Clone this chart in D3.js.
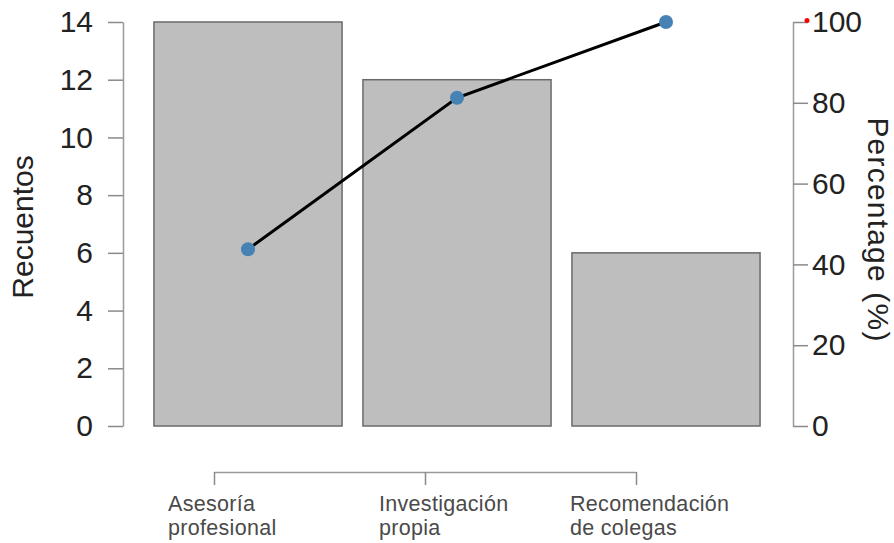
<!DOCTYPE html>
<html>
<head>
<meta charset="utf-8">
<script src="https://cdn.jsdelivr.net/npm/d3@7"></script>
<style>
  body { margin: 0; background: #fff; }
  text { font-family: "Liberation Sans", Arial, sans-serif; }
</style>
</head>
<body>
<svg id="chart" width="894" height="543"></svg>
<script>
// data
const categories = ["Asesoría profesional", "Investigación propia", "Recomendación de colegas"]
const counts = [14, 12, 6]
const cumulativePct = [43.75, 81.25, 100]
const countTicks = [0, 2, 4, 6, 8, 10, 12, 14]
const pctTicks = [0, 20, 40, 60, 80, 100]

const svg = d3.select("#chart")

const yTop = 22, yBottom = 426
const y = d3.scaleLinear().domain([0, 14]).range([yBottom, yTop])
const yp = d3.scaleLinear().domain([0, 100]).range([yBottom, yTop])
const x = d3.scaleBand().domain(categories).range([143.5, 770.5])
  .paddingInner(0.1).paddingOuter(0.05)
const xl = d3.scalePoint().domain(categories).range([214, 636])

// bars
svg.append("g").selectAll("rect")
  .data(categories)
  .join("rect")
  .attr("x", d => x(d))
  .attr("y", (d, i) => y(counts[i]))
  .attr("width", x.bandwidth())
  .attr("height", (d, i) => y(0) - y(counts[i]))
  .attr("fill", "#bebebe")
  .attr("stroke", "#6a6a6a")
  .attr("stroke-width", 1.5)

// left axis
const gl = svg.append("g").attr("transform", "translate(123,0)")
gl.call(d3.axisLeft(y).tickValues(countTicks).tickSize(15).tickSizeOuter(0).tickPadding(15))
gl.select(".domain").attr("stroke", "#9a9a9a").attr("stroke-width", 1.5)
gl.selectAll(".tick line").attr("stroke", "#8a8a8a").attr("stroke-width", 1.5)
gl.selectAll(".tick text").attr("font-size", 30).attr("fill", "#222")
  .attr("font-family", "Liberation Sans, Arial, sans-serif")

// right axis
const gr = svg.append("g").attr("transform", "translate(793,0)")
gr.call(d3.axisRight(yp).tickValues(pctTicks).tickSize(15).tickSizeOuter(0).tickPadding(4))
gr.select(".domain").attr("stroke", "#9a9a9a").attr("stroke-width", 1.5)
gr.selectAll(".tick line").attr("stroke", "#8a8a8a").attr("stroke-width", 1.5)
gr.selectAll(".tick text").attr("font-size", 30).attr("fill", "#222")
  .attr("font-family", "Liberation Sans, Arial, sans-serif")

svg.append("circle")
  .attr("cx", 807).attr("cy", yp(100) - 1.5)
  .attr("r", 2.5).attr("fill", "red")

// bottom category axis
const gb = svg.append("g").attr("transform", "translate(0,472)")
gb.call(d3.axisBottom(xl).tickSize(13).tickSizeOuter(0).tickFormat(""))
gb.select(".domain").attr("stroke", "#9a9a9a").attr("stroke-width", 1.5)
gb.selectAll(".tick line").attr("stroke", "#8a8a8a").attr("stroke-width", 1.5)

// two-line labels, one text per line
const labelShift = [-46, -46, -66]
const labLines = []
categories.forEach((d, i) => {
  const k = d.indexOf(" ")
  labLines.push({ c: d, i: i, row: 0, t: d.slice(0, k) })
  labLines.push({ c: d, i: i, row: 1, t: d.slice(k + 1) })
})
svg.append("g").selectAll("text")
  .data(labLines)
  .join("text")
  .attr("x", d => xl(d.c) + labelShift[d.i])
  .attr("y", d => 511 + d.row * 24)
  .attr("font-size", 21.5)
  .attr("letter-spacing", 0.3)
  .attr("fill", "#4a4a4a")
  .text(d => d.t)

// cumulative line
const line = d3.line()
  .x((d, i) => x(categories[i]) + x.bandwidth() / 2)
  .y(d => yp(d))
svg.append("path")
  .datum(cumulativePct)
  .attr("d", line)
  .attr("fill", "none")
  .attr("stroke", "#000")
  .attr("stroke-width", 3)

svg.append("g").selectAll("circle")
  .data(cumulativePct)
  .join("circle")
  .attr("cx", (d, i) => x(categories[i]) + x.bandwidth() / 2)
  .attr("cy", d => yp(d))
  .attr("r", 7)
  .attr("fill", "#4682b4")

// axis titles
svg.append("text")
  .attr("transform", `translate(33,${(yTop + yBottom) / 2 + 3}) rotate(-90)`)
  .attr("text-anchor", "middle")
  .attr("font-size", 30)
  .attr("fill", "#222")
  .text("Recuentos")

svg.append("text")
  .attr("transform", `translate(868,${(yTop + yBottom) / 2 + 6}) rotate(90)`)
  .attr("text-anchor", "middle")
  .attr("font-size", 30)
  .attr("letter-spacing", 1.2)
  .attr("fill", "#222")
  .text("Percentage (%)")
</script>
</body>
</html>
